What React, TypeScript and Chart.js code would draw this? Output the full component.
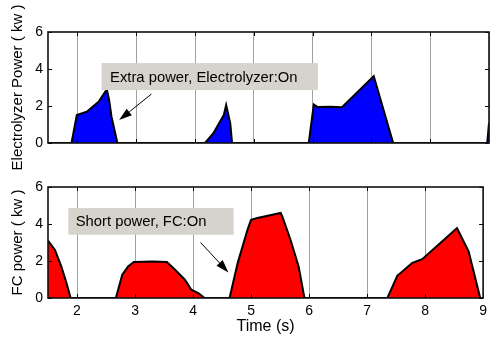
import React, { useEffect, useRef } from "react";
import { Chart, registerables } from "chart.js";

Chart.register(...registerables);

// ---- data ----
const timeMin = 1.5;
const timeMax = 9;
const xTickValues = [2, 3, 4, 5, 6, 7, 8, 9];
const yTickValues = [0, 2, 4, 6];

const elecTime = [1.5, 1.9, 1.99, 2.16, 2.36, 2.5, 2.54, 2.58, 2.68, 4.17, 4.31, 4.49, 4.53, 4.6, 4.63, 5.935, 6.02, 6.08, 6.3, 6.5, 7.04, 7.37, 8.97, 9.0];
const elecPower = [0, 0, 1.51, 1.69, 2.23, 2.9, 2.32, 1.42, 0, 0, 0.52, 1.51, 2.05, 1.06, 0, 0, 2.08, 1.95, 1.96, 1.93, 3.62, 0, 0, 1.08];

const fcTime = [1.5, 1.62, 1.73, 1.82, 1.89, 2.67, 2.78, 2.88, 2.98, 3.3, 3.55, 3.69, 3.86, 3.97, 4.09, 4.2, 4.63, 4.77, 4.94, 5.0, 5.11, 5.51, 5.54, 5.68, 5.82, 5.92, 7.35, 7.52, 7.78, 7.95, 8.55, 8.75, 8.95, 9.0];
const fcPower = [3.1, 2.6, 1.7, 0.8, 0, 0, 1.26, 1.7, 1.95, 1.97, 1.95, 1.53, 0.99, 0.45, 0.27, 0, 0, 1.9, 3.7, 4.23, 4.32, 4.6, 4.4, 3.15, 1.7, 0, 0, 1.2, 1.9, 2.1, 3.78, 2.52, 0, 0];

const elecTitle = "Electrolyzer Power ( kw )";
const fcTitle = "FC power ( kw )";
const xTitle = "Time (s)";
const elecNote = "Extra power, Electrolyzer:On";
const fcNote = "Short power, FC:On";

const FONT = "'Liberation Sans', Arial, Helvetica, sans-serif";

type Note = {
  text: string;
  box: [number, number, number, number]; // x0, x1, yTop, yBottom (data units)
  textX: number;
  arrow: [number, number, number, number]; // from x,y to x,y (data units)
};

function makePlugin(note: Note) {
  return {
    id: "frame",
    afterDatasetsDraw(chart: any) {
      const { ctx, chartArea: a, scales } = chart;
      ctx.save();
      ctx.strokeStyle = "#000";
      ctx.lineWidth = 1;
      const xs = scales.x;
      const ys = scales.y;
      for (const v of xTickValues) {
        if (v >= timeMax) continue;
        const px = Math.round(xs.getPixelForValue(v)) + 0.5;
        ctx.beginPath();
        ctx.moveTo(px, a.top);
        ctx.lineTo(px, a.top + 4);
        ctx.moveTo(px, a.bottom);
        ctx.lineTo(px, a.bottom - 4);
        ctx.stroke();
      }
      for (const v of yTickValues) {
        const py = Math.round(ys.getPixelForValue(v)) + 0.5;
        ctx.beginPath();
        ctx.moveTo(a.left, py);
        ctx.lineTo(a.left + 4, py);
        ctx.moveTo(a.right, py);
        ctx.lineTo(a.right - 4, py);
        ctx.stroke();
      }
      ctx.lineWidth = 1.6;
      ctx.strokeStyle = "#111";
      ctx.strokeRect(a.left, a.top, a.right - a.left, a.bottom - a.top);
      ctx.restore();
    },
    afterDraw(chart: any) {
      const { ctx, scales } = chart;
      const xs = scales.x;
      const ys = scales.y;
      ctx.save();
      const bx0 = xs.getPixelForValue(note.box[0]);
      const bx1 = xs.getPixelForValue(note.box[1]);
      const by0 = ys.getPixelForValue(note.box[2]);
      const by1 = ys.getPixelForValue(note.box[3]);
      ctx.fillStyle = "#d6d3cc";
      ctx.fillRect(bx0, by0, bx1 - bx0, by1 - by0);
      ctx.fillStyle = "#000";
      ctx.font = `14.8px ${FONT}`;
      ctx.textBaseline = "middle";
      ctx.textAlign = "left";
      ctx.fillText(note.text, xs.getPixelForValue(note.textX), (by0 + by1) / 2 + 1);
      const ax0 = xs.getPixelForValue(note.arrow[0]);
      const ay0 = ys.getPixelForValue(note.arrow[1]);
      const ax1 = xs.getPixelForValue(note.arrow[2]);
      const ay1 = ys.getPixelForValue(note.arrow[3]);
      const ang = Math.atan2(ay1 - ay0, ax1 - ax0);
      const len = 13;
      const hw = 4.2;
      const bxp = ax1 - len * Math.cos(ang);
      const byp = ay1 - len * Math.sin(ang);
      ctx.strokeStyle = "#000";
      ctx.lineWidth = 1;
      ctx.beginPath();
      ctx.moveTo(ax0, ay0);
      ctx.lineTo(bxp, byp);
      ctx.stroke();
      ctx.beginPath();
      ctx.moveTo(ax1, ay1);
      ctx.lineTo(bxp + hw * Math.sin(ang), byp - hw * Math.cos(ang));
      ctx.lineTo(bxp - hw * Math.sin(ang), byp + hw * Math.cos(ang));
      ctx.closePath();
      ctx.fillStyle = "#000";
      ctx.fill();
      ctx.restore();
    },
  };
}

function buildConfig(
  times: number[],
  values: number[],
  fill: string,
  yTitle: string,
  showX: boolean,
  note: Note,
  padTop: number,
  xHeight: number
): any {
  return {
    type: "line",
    data: {
      datasets: [
        {
          data: times.map((t, i) => ({ x: t, y: values[i] })),
          fill: "origin",
          backgroundColor: fill,
          borderColor: "#000",
          borderWidth: 2,
          pointRadius: 0,
          tension: 0,
        },
      ],
    },
    options: {
      responsive: false,
      animation: false,
      events: [],
      layout: { padding: { top: padTop, right: 3, left: 0, bottom: 0 } },
      plugins: { legend: { display: false }, tooltip: { enabled: false } },
      scales: {
        x: {
          type: "linear",
          min: timeMin,
          max: timeMax,
          afterBuildTicks: (s: any) => {
            s.ticks = xTickValues.map((v) => ({ value: v }));
          },
          ticks: {
            display: showX,
            padding: 5,
            color: "#000",
            font: { size: 14, family: FONT },
            maxRotation: 0,
            autoSkip: false,
          },
          grid: { color: "#a0a0a0", lineWidth: 1, drawTicks: false },
          border: { display: false },
          title: {
            display: showX,
            text: xTitle,
            color: "#000",
            font: { size: 16, family: FONT },
            padding: { top: 0, bottom: 2 },
          },
          afterFit: (s: any) => {
            s.height = xHeight;
          },
        },
        y: {
          min: 0,
          max: 6,
          ticks: {
            stepSize: 2,
            padding: 5,
            color: "#000",
            font: { size: 14, family: FONT },
          },
          grid: { display: false, drawTicks: false },
          border: { display: false },
          title: {
            display: true,
            text: yTitle,
            color: "#000",
            font: { size: 15, family: FONT },
            padding: { top: 9, bottom: 0 },
          },
          afterFit: (s: any) => {
            s.width = 48;
          },
        },
      },
    },
    plugins: [makePlugin(note)],
  };
}

function ChartBox(props: { config: any; top: number; height: number }) {
  const ref = useRef<HTMLCanvasElement | null>(null);
  useEffect(() => {
    if (!ref.current) return;
    const c = new Chart(ref.current, props.config);
    return () => c.destroy();
  }, []);
  return (
    <div style={{ position: "absolute", left: 0, top: props.top, width: 492, height: props.height }}>
      <canvas ref={ref} width={492} height={props.height} style={{ display: "block" }} />
    </div>
  );
}

export default function App() {
  const topCfg = buildConfig(
    elecTime,
    elecPower,
    "#0000ff",
    elecTitle,
    false,
    { text: elecNote, box: [2.41, 6.09, 4.32, 2.86], textX: 2.555, arrow: [3.26, 2.65, 2.71, 1.24] },
    32,
    27
  );
  const botCfg = buildConfig(
    fcTime,
    fcPower,
    "#ff0000",
    fcTitle,
    true,
    { text: fcNote, box: [1.85, 4.7, 4.86, 3.42], textX: 1.977, arrow: [4.13, 3.0, 4.61, 1.38] },
    17,
    40
  );
  return (
    <div style={{ position: "fixed", left: 0, top: 0, width: 492, height: 338, background: "#fff" }}>
      <ChartBox config={topCfg} top={0} height={170} />
      <ChartBox config={botCfg} top={170} height={168} />
    </div>
  );
}
